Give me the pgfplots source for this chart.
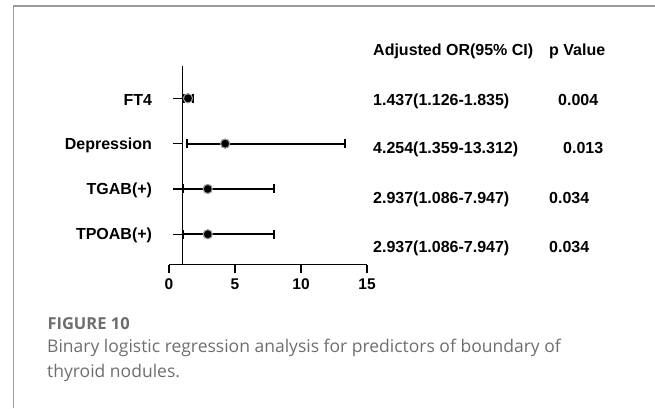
\documentclass[border=0pt]{standalone}
\usepackage{pgfplots}
\pgfplotsset{compat=1.18}
\usepackage{fontspec}
\setmainfont{Liberation Sans}
\newfontfamily\capfont{Open Sans}
\definecolor{capgray}{HTML}{6E6E6E}
\definecolor{framegray}{HTML}{9A9A9A}
\begin{document}
\begin{tikzpicture}[x=1pt,y=1pt]
\useasboundingbox (0,0) rectangle (655,408);
\draw[framegray, line width=1.5pt] (13.3,0) -- (13.3,402) -- (655,402);
% main axis (x axis, data)
\begin{axis}[
  at={(169pt,143.5pt)}, anchor=south west,
  scale only axis, width=198pt, height=198.5pt,
  xmin=0, xmax=15, ymin=0.333, ymax=4.713,
  axis x line=bottom, axis y line=none,
  axis line style={-, line width=1.3pt},
  xtick={0,5,10,15},
  tick align=outside, major tick length=8.5pt,
  every tick/.style={line width=1.3pt, black},
  xticklabel style={font=\fontsize{15.5}{18}\selectfont\bfseries, yshift=-2pt},
  /pgf/number format/assume math mode=true,
  ytick=\empty,
  clip=false,
]
\addplot[only marks, mark=*, mark size=4.6pt,
  mark options={fill=black, draw=black!40, line width=1.1pt},
  error bars/.cd, x dir=both, x explicit,
  error mark=|,
  error bar style={line width=1.8pt, black, solid},
  error mark options={line width=1.6pt, mark size=4.5pt, black, solid}]
  table[x=or, y=y, x error plus=ep, x error minus=em] {
  y or ep em
  4 1.437 0.398 0.311
  3 4.254 9.058 2.895
  2 2.937 5.010 1.851
  1 2.937 5.010 1.851
};
\end{axis}
% y axis at x = 1
\begin{axis}[
  at={(182.2pt,143.5pt)}, anchor=south west,
  scale only axis, width=1pt, height=198.5pt,
  xmin=0, xmax=1, ymin=0.333, ymax=4.713,
  axis x line=none, axis y line=left,
  axis line style={-, line width=1.3pt},
  ytick={1,2,3,4},
  yticklabels={{TPOAB(+)},{TGAB(+)},{Depression},{FT4}},
  tick align=outside, major tick length=9pt,
  every tick/.style={line width=1.3pt, black},
  yticklabel style={font=\fontsize{16}{19}\selectfont\bfseries, anchor=east, inner sep=0pt, xshift=-21pt, yshift=-1.5pt},
  xtick=\empty,
]
\addplot[draw=none] coordinates {(0,1)};
\end{axis}
% right columns
\begin{scope}[every node/.style={font=\fontsize{16}{19}\selectfont\bfseries, inner sep=0pt, anchor=base west}]
\node at (373,352.5) {Adjusted OR(95\% CI)};
\node at (549,352.5) {p Value};
\node at (373,302.5) {1.437(1.126-1.835)};
\node at (558,302.5) {0.004};
\node at (373,254.5) {4.254(1.359-13.312)};
\node at (563,254.5) {0.013};
\node at (373,204.5) {2.937(1.086-7.947)};
\node at (549,204.5) {0.034};
\node at (373,155.5) {2.937(1.086-7.947)};
\node at (549,155.5) {0.034};
\end{scope}
% caption
\node[anchor=base west, inner sep=0pt, text=capgray, font=\capfont\fontsize{16.5}{19}\selectfont\bfseries] at (47.3,79) {FIGURE 10};
\node[anchor=base west, inner sep=0pt, text=capgray, font=\capfont\fontsize{17.5}{21}\selectfont] at (47,56) {Binary logistic regression analysis for predictors of boundary of};
\node[anchor=base west, inner sep=0pt, text=capgray, font=\capfont\fontsize{17.5}{21}\selectfont] at (47,30.5) {thyroid nodules.};
\end{tikzpicture}
\end{document}
